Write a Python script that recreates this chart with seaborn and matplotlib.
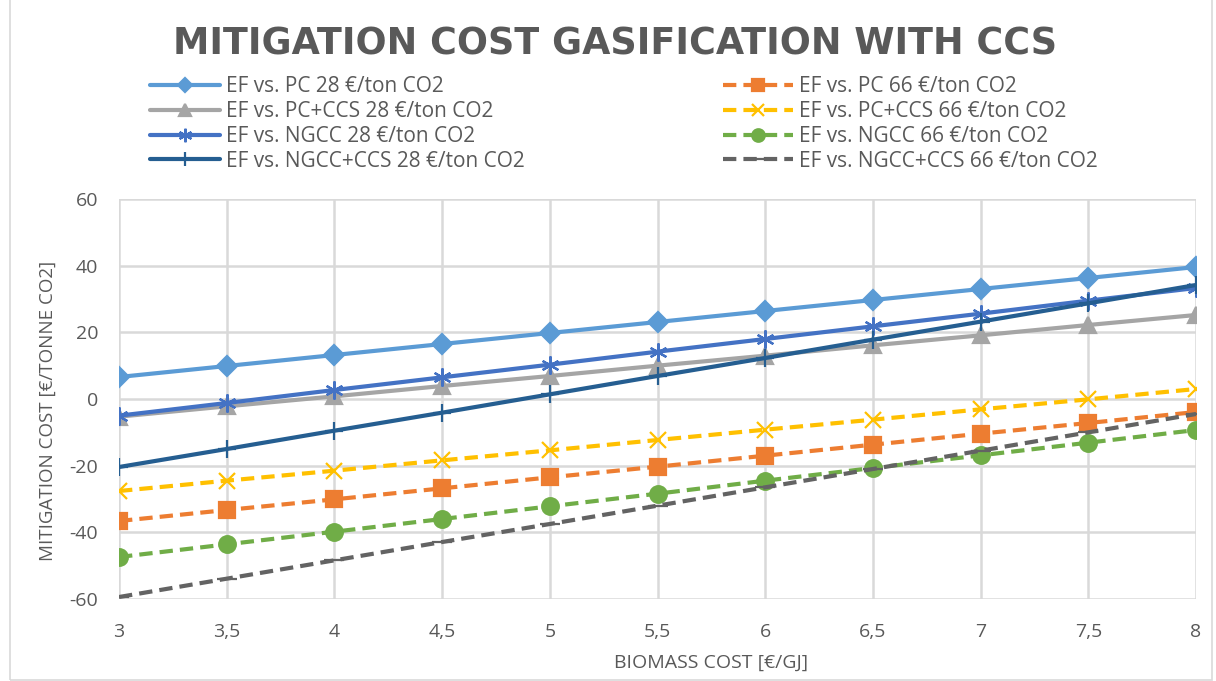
import matplotlib
matplotlib.use("Agg")
import matplotlib.pyplot as plt
import seaborn as sns
import pandas as pd
from matplotlib.patches import Rectangle

# Biomass cost axis
biomass_cost = [3, 3.5, 4, 4.5, 5, 5.5, 6, 6.5, 7, 7.5, 8]
x_tick_labels = ["3", "3,5", "4", "4,5", "5", "5,5", "6", "6,5", "7", "7,5", "8"]

# Mitigation cost series [€/tonne CO2]
pc_28 = [6.6, 9.9, 13.2, 16.5, 19.8, 23.1, 26.4, 29.7, 33.0, 36.3, 39.6]
pc_66 = [-36.6, -33.3, -30.1, -26.8, -23.5, -20.3, -17.0, -13.7, -10.4, -7.2, -3.9]
pc_ccs_28 = [-5.3, -2.2, 0.8, 3.9, 6.9, 10.0, 13.0, 16.1, 19.1, 22.2, 25.2]
pc_ccs_66 = [-27.6, -24.5, -21.5, -18.4, -15.4, -12.3, -9.2, -6.2, -3.1, -0.1, 3.0]
ngcc_28 = [-5.0, -1.2, 2.7, 6.5, 10.3, 14.2, 18.0, 21.8, 25.6, 29.5, 33.3]
ngcc_66 = [-47.4, -43.6, -39.8, -36.0, -32.2, -28.4, -24.5, -20.7, -16.9, -13.1, -9.3]
ngcc_ccs_28 = [-20.4, -15.0, -9.5, -4.1, 1.4, 6.9, 12.3, 17.8, 23.2, 28.7, 34.2]
ngcc_ccs_66 = [-59.4, -53.9, -48.4, -42.9, -37.5, -32.0, -26.5, -21.0, -15.5, -10.0, -4.5]

y_ticks = [-60, -40, -20, 0, 20, 40, 60]

TEXT = "#595959"
GRID = "#d9d9d9"

# (label, values, colour, marker, marker size, dashed)
series = [
    ("EF vs. PC 28 €/ton CO2", pc_28, "#5B9BD5", "D", 10, False),
    ("EF vs. PC 66 €/ton CO2", pc_66, "#ED7D31", "s", 11, True),
    ("EF vs. PC+CCS 28 €/ton CO2", pc_ccs_28, "#A5A5A5", "^", 11, False),
    ("EF vs. PC+CCS 66 €/ton CO2", pc_ccs_66, "#FFC000", "x", 11, True),
    ("EF vs. NGCC 28 €/ton CO2", ngcc_28, "#4472C4", (6, 2, 0), 13, False),
    ("EF vs. NGCC 66 €/ton CO2", ngcc_66, "#70AD47", "o", 12, True),
    ("EF vs. NGCC+CCS 28 €/ton CO2", ngcc_ccs_28, "#255E91", "+", 13, False),
    ("EF vs. NGCC+CCS 66 €/ton CO2", ngcc_ccs_66, "#636363", "_", 14, True),
]

sns.set_theme(style="white")
plt.rcParams["font.family"] = ["Open Sans", "DejaVu Sans"]

fig = plt.figure(figsize=(12.16, 6.81), dpi=100)
ax = fig.add_axes([0.0979, 0.1204, 0.8857, 0.5874])

handles = {}
for label, values, color, marker, msize, dashed in series:
    df = pd.DataFrame({"cost": biomass_cost, "mitigation": values})
    sns.lineplot(data=df, x="cost", y="mitigation", ax=ax, color=color,
                 linewidth=3, marker=marker, markersize=msize,
                 markeredgecolor=color, markerfacecolor=color,
                 markeredgewidth=1.6, label=label, legend=False)
    line = ax.lines[-1]
    line.set_solid_capstyle("round")
    if dashed:
        line.set_dashes((3.2, 1.7))
    handles[label] = line

ax.set_xlim(3, 8)
ax.set_ylim(-60, 60)
ax.set_xticks(biomass_cost)
ax.set_xticklabels(x_tick_labels)
ax.set_yticks(y_ticks)
ax.set_yticklabels([str(v) for v in y_ticks])
ax.grid(True, color=GRID, linewidth=1.8)
ax.set_axisbelow(True)
for s in ax.spines.values():
    s.set_visible(False)
ax.tick_params(axis="both", length=0, labelsize=14, labelcolor=TEXT)
ax.tick_params(axis="x", pad=17)
ax.tick_params(axis="y", pad=15)

ax.set_xlabel("BIOMASS COST [€/GJ]", fontsize=14, color=TEXT)
ax.set_ylabel("MITIGATION COST [€/TONNE CO2]", fontsize=13.5, color=TEXT)
ax.xaxis.set_label_coords(0.55, -0.138)
ax.yaxis.set_label_coords(-0.058, 0.47)

fig.text(0.506, 0.936, "MITIGATION COST GASIFICATION WITH CCS", ha="center", va="center",
         fontsize=26.3, fontweight="bold", color=TEXT, family="DejaVu Sans")

# 28 €/t series in the left column, 66 €/t in the right column
order = [s[0] for s in series[0::2]] + [s[0] for s in series[1::2]]
leg = fig.legend([handles[k] for k in order], order, ncol=2,
                 loc="upper left", bbox_to_anchor=(0.1168, 0.9002),
                 frameon=False, fontsize=15, handlelength=3.36, markerscale=0.75,
                 columnspacing=9.5, labelspacing=0.18, handletextpad=0.29,
                 borderaxespad=0.0)
for t in leg.get_texts():
    t.set_color(TEXT)

fig.patches.append(Rectangle((10 / 1216, 0.002), 1202 / 1216, 1.2, transform=fig.transFigure,
                             fill=False, edgecolor=GRID, linewidth=1.2))

fig.savefig("out.png", dpi=100)
